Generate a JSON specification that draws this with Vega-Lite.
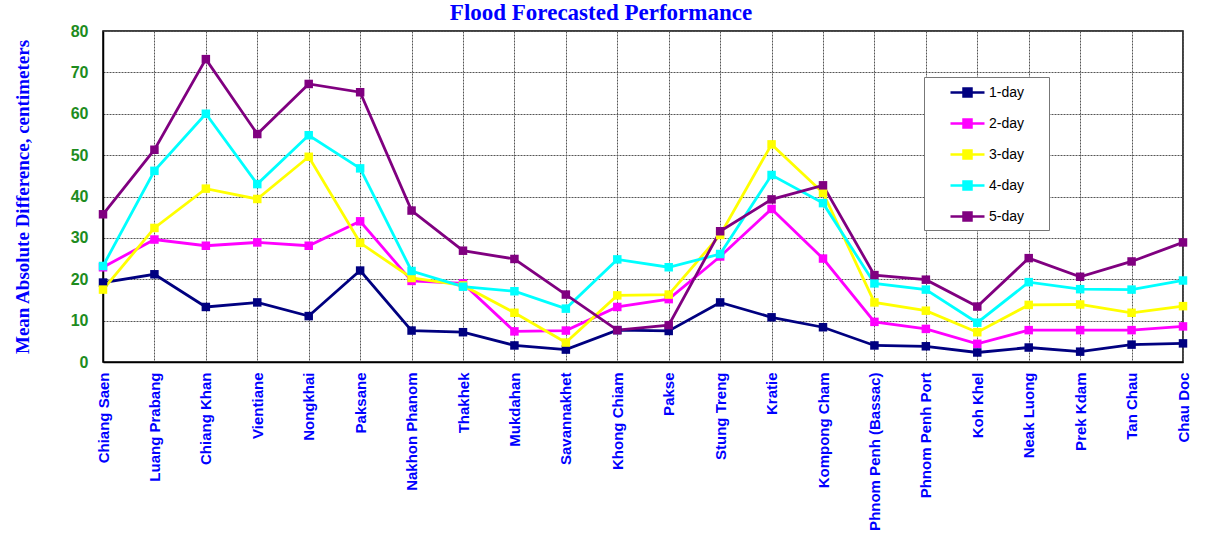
{
  "$schema": "https://vega.github.io/schema/vega-lite/v6.json",
  "width": 1080,
  "height": 331,
  "autosize": {"type": "none"},
  "padding": {"left": 103, "top": 31, "right": 27, "bottom": 183},
  "background": "white",
  "title": {
    "text": "Flood Forecasted Performance",
    "font": "Liberation Serif",
    "fontSize": 23,
    "fontWeight": "bold",
    "color": "#0000FF",
    "anchor": "middle",
    "dx": -42,
    "dy": 10,
    "offset": 8
  },
  "config": {
    "view": {"stroke": "#000000", "strokeWidth": 1.5},
    "axis": {
      "gridColor": "#555555",
      "gridDash": [2, 1],
      "gridOpacity": 1,
      "gridWidth": 1,
      "domainColor": "#000000",
      "domainWidth": 1.5,
      "ticks": false,
      "tickSize": 0
    }
  },
  "data": {
    "values": [
      {"station": "Chiang Saen", "series": "1-day", "value": 19.2},
      {"station": "Chiang Saen", "series": "2-day", "value": 22.9},
      {"station": "Chiang Saen", "series": "3-day", "value": 17.5},
      {"station": "Chiang Saen", "series": "4-day", "value": 23.2},
      {"station": "Chiang Saen", "series": "5-day", "value": 35.7},
      {"station": "Luang Prabang", "series": "1-day", "value": 21.2},
      {"station": "Luang Prabang", "series": "2-day", "value": 29.6},
      {"station": "Luang Prabang", "series": "3-day", "value": 32.4},
      {"station": "Luang Prabang", "series": "4-day", "value": 46.2},
      {"station": "Luang Prabang", "series": "5-day", "value": 51.3},
      {"station": "Chiang Khan", "series": "1-day", "value": 13.3},
      {"station": "Chiang Khan", "series": "2-day", "value": 28.1},
      {"station": "Chiang Khan", "series": "3-day", "value": 41.9},
      {"station": "Chiang Khan", "series": "4-day", "value": 60.0},
      {"station": "Chiang Khan", "series": "5-day", "value": 73.2},
      {"station": "Vientiane", "series": "1-day", "value": 14.4},
      {"station": "Vientiane", "series": "2-day", "value": 28.9},
      {"station": "Vientiane", "series": "3-day", "value": 39.4},
      {"station": "Vientiane", "series": "4-day", "value": 43.0},
      {"station": "Vientiane", "series": "5-day", "value": 55.1},
      {"station": "Nongkhai", "series": "1-day", "value": 11.1},
      {"station": "Nongkhai", "series": "2-day", "value": 28.1},
      {"station": "Nongkhai", "series": "3-day", "value": 49.6},
      {"station": "Nongkhai", "series": "4-day", "value": 54.8},
      {"station": "Nongkhai", "series": "5-day", "value": 67.2},
      {"station": "Paksane", "series": "1-day", "value": 22.1},
      {"station": "Paksane", "series": "2-day", "value": 34.0},
      {"station": "Paksane", "series": "3-day", "value": 28.8},
      {"station": "Paksane", "series": "4-day", "value": 46.8},
      {"station": "Paksane", "series": "5-day", "value": 65.2},
      {"station": "Nakhon Phanom", "series": "1-day", "value": 7.6},
      {"station": "Nakhon Phanom", "series": "2-day", "value": 19.6},
      {"station": "Nakhon Phanom", "series": "3-day", "value": 20.3},
      {"station": "Nakhon Phanom", "series": "4-day", "value": 22.0},
      {"station": "Nakhon Phanom", "series": "5-day", "value": 36.6},
      {"station": "Thakhek", "series": "1-day", "value": 7.2},
      {"station": "Thakhek", "series": "2-day", "value": 19.0},
      {"station": "Thakhek", "series": "3-day", "value": 18.5},
      {"station": "Thakhek", "series": "4-day", "value": 18.2},
      {"station": "Thakhek", "series": "5-day", "value": 26.9},
      {"station": "Mukdahan", "series": "1-day", "value": 4.0},
      {"station": "Mukdahan", "series": "2-day", "value": 7.4},
      {"station": "Mukdahan", "series": "3-day", "value": 11.9},
      {"station": "Mukdahan", "series": "4-day", "value": 17.1},
      {"station": "Mukdahan", "series": "5-day", "value": 24.9},
      {"station": "Savannakhet", "series": "1-day", "value": 3.0},
      {"station": "Savannakhet", "series": "2-day", "value": 7.6},
      {"station": "Savannakhet", "series": "3-day", "value": 4.7},
      {"station": "Savannakhet", "series": "4-day", "value": 12.9},
      {"station": "Savannakhet", "series": "5-day", "value": 16.3},
      {"station": "Khong Chiam", "series": "1-day", "value": 7.7},
      {"station": "Khong Chiam", "series": "2-day", "value": 13.3},
      {"station": "Khong Chiam", "series": "3-day", "value": 16.1},
      {"station": "Khong Chiam", "series": "4-day", "value": 24.8},
      {"station": "Khong Chiam", "series": "5-day", "value": 7.7},
      {"station": "Pakse", "series": "1-day", "value": 7.5},
      {"station": "Pakse", "series": "2-day", "value": 15.2},
      {"station": "Pakse", "series": "3-day", "value": 16.3},
      {"station": "Pakse", "series": "4-day", "value": 22.9},
      {"station": "Pakse", "series": "5-day", "value": 8.9},
      {"station": "Stung Treng", "series": "1-day", "value": 14.4},
      {"station": "Stung Treng", "series": "2-day", "value": 25.5},
      {"station": "Stung Treng", "series": "3-day", "value": 30.7},
      {"station": "Stung Treng", "series": "4-day", "value": 26.1},
      {"station": "Stung Treng", "series": "5-day", "value": 31.6},
      {"station": "Kratie", "series": "1-day", "value": 10.8},
      {"station": "Kratie", "series": "2-day", "value": 37.0},
      {"station": "Kratie", "series": "3-day", "value": 52.6},
      {"station": "Kratie", "series": "4-day", "value": 45.2},
      {"station": "Kratie", "series": "5-day", "value": 39.3},
      {"station": "Kompong Cham", "series": "1-day", "value": 8.4},
      {"station": "Kompong Cham", "series": "2-day", "value": 25.0},
      {"station": "Kompong Cham", "series": "3-day", "value": 40.9},
      {"station": "Kompong Cham", "series": "4-day", "value": 38.4},
      {"station": "Kompong Cham", "series": "5-day", "value": 42.7},
      {"station": "Phnom Penh (Bassac)", "series": "1-day", "value": 4.0},
      {"station": "Phnom Penh (Bassac)", "series": "2-day", "value": 9.7},
      {"station": "Phnom Penh (Bassac)", "series": "3-day", "value": 14.4},
      {"station": "Phnom Penh (Bassac)", "series": "4-day", "value": 19.0},
      {"station": "Phnom Penh (Bassac)", "series": "5-day", "value": 21.0},
      {"station": "Phnom Penh Port", "series": "1-day", "value": 3.8},
      {"station": "Phnom Penh Port", "series": "2-day", "value": 8.0},
      {"station": "Phnom Penh Port", "series": "3-day", "value": 12.4},
      {"station": "Phnom Penh Port", "series": "4-day", "value": 17.5},
      {"station": "Phnom Penh Port", "series": "5-day", "value": 19.9},
      {"station": "Koh Khel", "series": "1-day", "value": 2.3},
      {"station": "Koh Khel", "series": "2-day", "value": 4.4},
      {"station": "Koh Khel", "series": "3-day", "value": 7.2},
      {"station": "Koh Khel", "series": "4-day", "value": 9.5},
      {"station": "Koh Khel", "series": "5-day", "value": 13.4},
      {"station": "Neak Luong", "series": "1-day", "value": 3.5},
      {"station": "Neak Luong", "series": "2-day", "value": 7.7},
      {"station": "Neak Luong", "series": "3-day", "value": 13.8},
      {"station": "Neak Luong", "series": "4-day", "value": 19.3},
      {"station": "Neak Luong", "series": "5-day", "value": 25.1},
      {"station": "Prek Kdam", "series": "1-day", "value": 2.5},
      {"station": "Prek Kdam", "series": "2-day", "value": 7.7},
      {"station": "Prek Kdam", "series": "3-day", "value": 13.9},
      {"station": "Prek Kdam", "series": "4-day", "value": 17.6},
      {"station": "Prek Kdam", "series": "5-day", "value": 20.6},
      {"station": "Tan Chau", "series": "1-day", "value": 4.2},
      {"station": "Tan Chau", "series": "2-day", "value": 7.7},
      {"station": "Tan Chau", "series": "3-day", "value": 11.9},
      {"station": "Tan Chau", "series": "4-day", "value": 17.5},
      {"station": "Tan Chau", "series": "5-day", "value": 24.3},
      {"station": "Chau Doc", "series": "1-day", "value": 4.5},
      {"station": "Chau Doc", "series": "2-day", "value": 8.6},
      {"station": "Chau Doc", "series": "3-day", "value": 13.5},
      {"station": "Chau Doc", "series": "4-day", "value": 19.7},
      {"station": "Chau Doc", "series": "5-day", "value": 28.9}
    ]
  },
  "mark": {
    "type": "line",
    "strokeWidth": 2.8,
    "point": {"shape": "square", "filled": true, "size": 72, "opacity": 1}
  },
  "encoding": {
    "x": {
      "field": "station",
      "type": "nominal",
      "sort": null,
      "scale": {"type": "point", "padding": 0},
      "axis": {
        "title": null,
        "labelAngle": -90,
        "labelFont": "Liberation Sans",
        "labelFontSize": 15,
        "labelFontWeight": "bold",
        "labelColor": "#0000FF",
        "labelPadding": 10,
        "labelLimit": 250,
        "grid": true
      }
    },
    "y": {
      "field": "value",
      "type": "quantitative",
      "scale": {"domain": [0, 80], "nice": false},
      "axis": {
        "values": [0, 10, 20, 30, 40, 50, 60, 70, 80],
        "title": "Mean Absolute Difference, centimeters",
        "titleFont": "Liberation Serif",
        "titleFontSize": 19,
        "titleFontWeight": "bold",
        "titleColor": "#0000FF",
        "titleX": -81,
        "titleY": 165.5,
        "titleAngle": -90,
        "titleAlign": "center",
        "titleBaseline": "middle",
        "labelFont": "Liberation Sans",
        "labelFontSize": 16,
        "labelFontWeight": "bold",
        "labelColor": "#1E8C1E",
        "labelPadding": 15,
        "grid": true
      }
    },
    "color": {
      "field": "series",
      "type": "nominal",
      "scale": {
        "domain": ["1-day", "2-day", "3-day", "4-day", "5-day"],
        "range": ["#000080", "#FF00FF", "#FFFF00", "#00FFFF", "#800080"]
      },
      "legend": {
        "title": null,
        "orient": "none",
        "legendX": 821,
        "legendY": 46,
        "strokeColor": "#777777",
        "fillColor": "#FFFFFF",
        "padding": 4,
        "symbolOffset": 28,
        "symbolType": "M-1.7,0H1.7M-0.4,-0.4H0.4V0.4H-0.4Z",
        "symbolSize": 400,
        "symbolStrokeWidth": 2.5,
        "labelFont": "Liberation Sans",
        "labelFontSize": 14,
        "labelColor": "#000000",
        "labelOffset": 10,
        "rowPadding": 10,
        "labelExpr": "datum.label + '\u2800\u2800'",
        "encode": {
          "symbols": {
            "update": {
              "fill": {"scale": "color", "field": "value"},
              "stroke": {"scale": "color", "field": "value"},
              "opacity": {"value": 1}
            }
          }
        }
      }
    }
  }
}
